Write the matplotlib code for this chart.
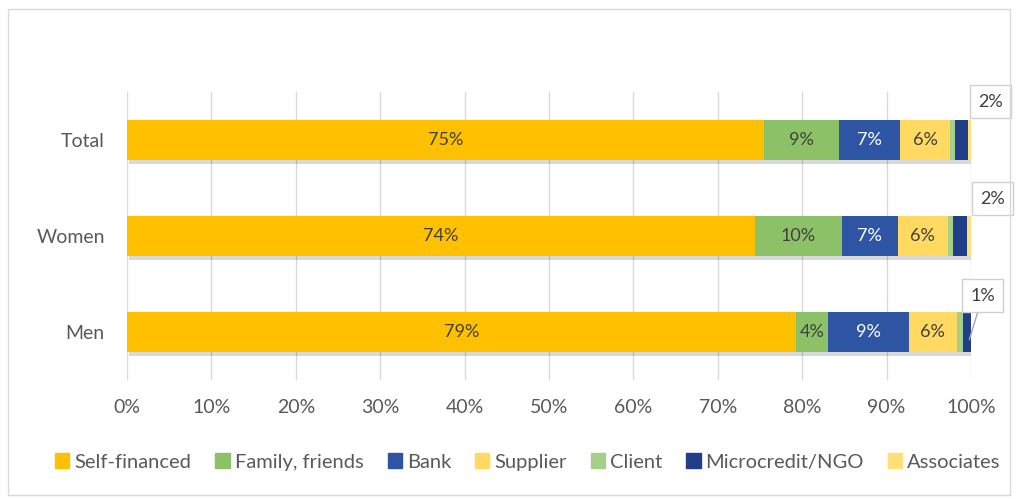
import matplotlib.pyplot as plt
import matplotlib.patheffects as pe
from matplotlib.patches import Rectangle, Patch

plt.rcParams['font.family'] = ['Lato', 'DejaVu Sans']

groups = ['Men', 'Women', 'Total']
sources = ['Self-financed', 'Family, friends', 'Bank', 'Supplier', 'Client',
           'Microcredit/NGO', 'Associates']
# share of each source, in %, for Men, Women, Total
self_financed = [79.3, 74.4, 75.5]
family = [3.8, 10.3, 8.9]
bank = [9.5, 6.6, 7.2]
supplier = [5.7, 6.0, 5.9]
client = [0.8, 0.6, 0.6]
microcredit = [0.9, 1.6, 1.5]
associates = [0.0, 0.5, 0.4]
# labels as printed on the chart
self_labels = ['79%', '74%', '75%']
family_labels = ['4%', '10%', '9%']
bank_labels = ['9%', '7%', '7%']
supplier_labels = ['6%', '6%', '6%']
callout_labels = ['1%', '2%', '2%']

series = [self_financed, family, bank, supplier, client, microcredit, associates]
labels = [self_labels, family_labels, bank_labels, supplier_labels, None, None, None]
colors = ['#FFC000', '#8CC168', '#2E54A4', '#FFD960', '#A6D08A', '#213F88', '#FFDF78']
text_colors = ['#404040', '#404040', 'white', '#404040', None, None, None]

fig = plt.figure(figsize=(10.17, 4.99), dpi=100)
ax = fig.add_axes([127 / 1017, 1 - 380 / 499, (971 - 127) / 1017, (380 - 92) / 499])

shadow = [pe.SimplePatchShadow(offset=(1.5, -2.5), shadow_rgbFace='black', alpha=0.15), pe.Normal()]
left = [0.0, 0.0, 0.0]
for i, vals in enumerate(series):
    ax.barh(range(3), vals, left=left, height=0.42, color=colors[i],
            zorder=3, path_effects=shadow)
    if labels[i] is not None:
        for j in range(3):
            ax.text(left[j] + vals[j] / 2, j, labels[i][j], ha='center',
                    va='center', color=text_colors[i], fontsize=13, zorder=4)
    left = [l + v for l, v in zip(left, vals)]

# callout boxes for the microcredit share
callout_pos = [(101.4, 0.38), (102.6, 1.39), (102.3, 2.40)]
for j, (x, y) in enumerate(callout_pos):
    ax.annotate(callout_labels[j], xy=(99.8, j - 0.08), xytext=(x, y),
                ha='center', va='center', fontsize=13, color='#404040',
                bbox=dict(boxstyle='square,pad=0.45', fc='white', ec='#D0D0D0', lw=1),
                arrowprops=dict(arrowstyle='-', color='#A6A6A6', lw=1, shrinkA=0, shrinkB=0) if j == 0 else None,
                annotation_clip=False, zorder=5)

ax.set_xlim(0, 100)
ax.set_ylim(-0.5, 2.5)
ax.set_xticks(range(0, 101, 10))
ax.set_xticklabels([f'{t}%' for t in range(0, 101, 10)])
ax.set_yticks(range(3))
ax.set_yticklabels(groups)
ax.tick_params(axis='both', length=0, labelsize=14, labelcolor='#595959')
ax.tick_params(axis='x', pad=14)
ax.tick_params(axis='y', pad=16)
ax.grid(axis='x', color='#D9D9D9', lw=1, zorder=0)
for s in ax.spines.values():
    s.set_visible(False)

handles = [Patch(color=c, label=s) for c, s in zip(colors, sources)]
fig.legend(handles=handles, loc='center', bbox_to_anchor=(528 / 1017, 1 - 462 / 499), ncol=7,
           frameon=False, fontsize=14.5, labelcolor='#595959', handlelength=0.7, handleheight=0.7,
           handletextpad=0.25, columnspacing=1.2)

fig.patches.append(Rectangle((8 / 1017, 4 / 499), 1002 / 1017, 486 / 499, transform=fig.transFigure,
                             fill=False, ec='#D9D9D9', lw=1))

fig.savefig('out.png', dpi=100)
